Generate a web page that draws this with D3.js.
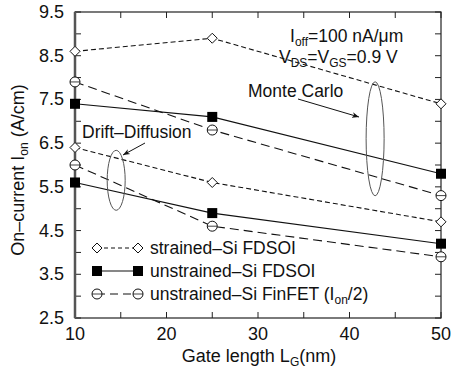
<!DOCTYPE html>
<html>
<head>
<meta charset="utf-8">
<script src="https://cdn.jsdelivr.net/npm/d3@7"></script>
<style>
  body { margin: 0; background: #fff; }
  text { font-family: "Liberation Sans", Arial, sans-serif; fill: #111; }
</style>
</head>
<body>
<div id="chart"></div>
<script>
// gate lengths (nm)
const gateLengths = [10, 25, 50];
// on-current (A/cm), Monte Carlo and drift-diffusion per device
const strainedMC = [8.6, 8.9, 7.4];
const strainedDD = [6.4, 5.6, 4.7];
const unstrainedMC = [7.4, 7.1, 5.8];
const unstrainedDD = [5.6, 4.9, 4.2];
const finfetMC = [7.9, 6.8, 5.3];
const finfetDD = [6.0, 4.6, 3.9];
const yTickLabels = [2.5, 3.5, 4.5, 5.5, 6.5, 7.5, 8.5, 9.5];
const xTickLabels = [10, 20, 30, 40, 50];
const legendNames = ['strained\u2013Si FDSOI', 'unstrained\u2013Si FDSOI', 'unstrained\u2013Si FinFET (I', 'on', '/2)'];

const width = 451, height = 375;
const margin = {top: 12, right: 10, bottom: 57, left: 75};
const innerW = width - margin.left - margin.right;
const innerH = height - margin.top - margin.bottom;
const fs = '17.5px', sub = '12px';

const svg = d3.select('#chart').append('svg')
  .attr('width', width)
  .attr('height', height);

const g = svg.append('g')
  .attr('transform', `translate(${margin.left},${margin.top})`);

const x = d3.scaleLinear().domain([10, 50]).range([0, innerW]);
const y = d3.scaleLinear().domain([2.5, 9.5]).range([innerH, 0]);

// axes - inward ticks, mirrored on top/right
const tickLen = 6;
const xTicks = d3.range(10, 51, 5);
const yTicks = d3.range(2.5, 9.51, 0.5);

const axisG = g.append('g').attr('stroke', '#222').attr('stroke-width', 1);
xTicks.forEach(t => {
  axisG.append('line').attr('x1', x(t)).attr('x2', x(t)).attr('y1', innerH).attr('y2', innerH - tickLen);
  axisG.append('line').attr('x1', x(t)).attr('x2', x(t)).attr('y1', 0).attr('y2', tickLen);
});
yTicks.forEach(t => {
  axisG.append('line').attr('x1', 0).attr('x2', tickLen).attr('y1', y(t)).attr('y2', y(t));
  axisG.append('line').attr('x1', innerW).attr('x2', innerW - tickLen).attr('y1', y(t)).attr('y2', y(t));
});
g.append('rect')
  .attr('width', innerW).attr('height', innerH)
  .attr('fill', 'none').attr('stroke', '#222').attr('stroke-width', 1.2);
g.append('line').attr('x1', 0).attr('x2', 0).attr('y1', 0).attr('y2', innerH)
  .attr('stroke', '#555').attr('stroke-width', 2.5);

g.selectAll('text.xtick').data(xTickLabels).join('text')
  .attr('class', 'xtick')
  .attr('x', d => x(d)).attr('y', innerH + 22)
  .attr('text-anchor', 'middle').style('font-size', '18px')
  .text(d => d);
g.selectAll('text.ytick').data(yTickLabels).join('text')
  .attr('class', 'ytick')
  .attr('x', -11).attr('y', d => y(d) + 6)
  .attr('text-anchor', 'end').style('font-size', '18px')
  .text(d => d.toFixed(1));

// axis titles
const xt = svg.append('text')
  .attr('x', 259).attr('y', 362)
  .attr('text-anchor', 'middle').style('font-size', '18px');
xt.append('tspan').text('Gate length L');
xt.append('tspan').attr('dy', 4).style('font-size', sub).text('G');
xt.append('tspan').attr('dy', -4).text('(nm)');

const yt = svg.append('text')
  .attr('transform', 'translate(24,170) rotate(-90)')
  .attr('text-anchor', 'middle').style('font-size', '18px');
yt.append('tspan').text('On\u2013current I');
yt.append('tspan').attr('dy', 4).style('font-size', sub).text('on');
yt.append('tspan').attr('dy', -4).text('  (A/cm)');

// series
const series = [
  {vals: strainedMC, dash: '5,3', marker: 'diamond'},
  {vals: strainedDD, dash: '5,3', marker: 'diamond'},
  {vals: unstrainedMC, dash: null, marker: 'square'},
  {vals: unstrainedDD, dash: null, marker: 'square'},
  {vals: finfetMC, dash: '9,5', marker: 'circle'},
  {vals: finfetDD, dash: '9,5', marker: 'circle'}
];

const line = d3.line().x(d => x(d[0])).y(d => y(d[1]));

function drawMarker(sel, type, cx, cy) {
  if (type === 'diamond') {
    sel.append('path')
      .attr('d', `M${cx},${cy - 5}L${cx + 5},${cy}L${cx},${cy + 5}L${cx - 5},${cy}Z`)
      .attr('fill', '#fff').attr('stroke', '#111').attr('stroke-width', 1);
  } else if (type === 'square') {
    sel.append('rect')
      .attr('x', cx - 5).attr('y', cy - 5).attr('width', 10).attr('height', 10)
      .attr('fill', '#000');
  } else {
    sel.append('circle').attr('cx', cx).attr('cy', cy).attr('r', 5)
      .attr('fill', '#fff').attr('stroke', '#111').attr('stroke-width', 1);
    sel.append('line').attr('x1', cx - 5).attr('x2', cx + 5).attr('y1', cy).attr('y2', cy)
      .attr('stroke', '#111').attr('stroke-width', 0.8);
  }
}

series.forEach(s => {
  const pts = gateLengths.map((gl, i) => [gl, s.vals[i]]);
  g.append('path').datum(pts)
    .attr('d', line)
    .attr('fill', 'none').attr('stroke', '#111').attr('stroke-width', 1.1)
    .attr('stroke-dasharray', s.dash);
  pts.forEach(p => drawMarker(g, s.marker, x(p[0]), y(p[1])));
});

// annotations: ellipses and arrows
g.append('ellipse').attr('cx', x(14.5)).attr('cy', y(5.65)).attr('rx', 9).attr('ry', 30)
  .attr('fill', 'none').attr('stroke', '#555').attr('stroke-width', 1);
g.append('ellipse').attr('cx', x(42.8)).attr('cy', y(6.6)).attr('rx', 9).attr('ry', 57)
  .attr('fill', 'none').attr('stroke', '#555').attr('stroke-width', 1);

svg.append('defs').append('marker')
  .attr('id', 'arrow').attr('viewBox', '0 0 10 10')
  .attr('refX', 10).attr('refY', 5)
  .attr('markerWidth', 7).attr('markerHeight', 7)
  .attr('orient', 'auto')
  .append('path').attr('d', 'M0,1L10,5L0,9L3,5Z').attr('fill', '#111');

svg.append('line').attr('x1', 298).attr('y1', 99).attr('x2', 359).attr('y2', 117)
  .attr('stroke', '#111').attr('stroke-width', 1).attr('marker-end', 'url(#arrow)');
svg.append('line').attr('x1', 145).attr('y1', 143).attr('x2', 123).attr('y2', 155)
  .attr('stroke', '#111').attr('stroke-width', 1).attr('marker-end', 'url(#arrow)');

svg.append('text').attr('x', 248).attr('y', 97).style('font-size', fs).text('Monte Carlo');
svg.append('text').attr('x', 82).attr('y', 138).style('font-size', fs).text('Drift\u2013Diffusion');

const a1 = svg.append('text').attr('x', 290).attr('y', 42).style('font-size', fs);
a1.append('tspan').text('I');
a1.append('tspan').attr('dy', 4).style('font-size', sub).text('off');
a1.append('tspan').attr('dy', -4).text('=100 nA/\u03bcm');
const a2 = svg.append('text').attr('x', 279).attr('y', 63).style('font-size', fs);
a2.append('tspan').text('V');
a2.append('tspan').attr('dy', 4).style('font-size', sub).text('DS');
a2.append('tspan').attr('dy', -4).text('=V');
a2.append('tspan').attr('dy', 4).style('font-size', sub).text('GS');
a2.append('tspan').attr('dy', -4).text('=0.9 V');

// legend
const legend = [
  {dash: '4,3', marker: 'diamond', y: 248},
  {dash: null, marker: 'square', y: 271},
  {dash: '8,5', marker: 'circle', y: 294}
];
legend.forEach((l, i) => {
  svg.append('line').attr('x1', 97).attr('x2', 138).attr('y1', l.y).attr('y2', l.y)
    .attr('stroke', '#111').attr('stroke-width', 1.1).attr('stroke-dasharray', l.dash);
  drawMarker(svg, l.marker, 97, l.y);
  drawMarker(svg, l.marker, 138, l.y);
  const t = svg.append('text').attr('x', 150).attr('y', l.y + 6).style('font-size', fs);
  if (i < 2) {
    t.text(legendNames[i]);
  } else {
    t.append('tspan').text(legendNames[2]);
    t.append('tspan').attr('dy', 4).style('font-size', sub).text(legendNames[3]);
    t.append('tspan').attr('dy', -4).text(legendNames[4]);
  }
});
</script>
</body>
</html>
